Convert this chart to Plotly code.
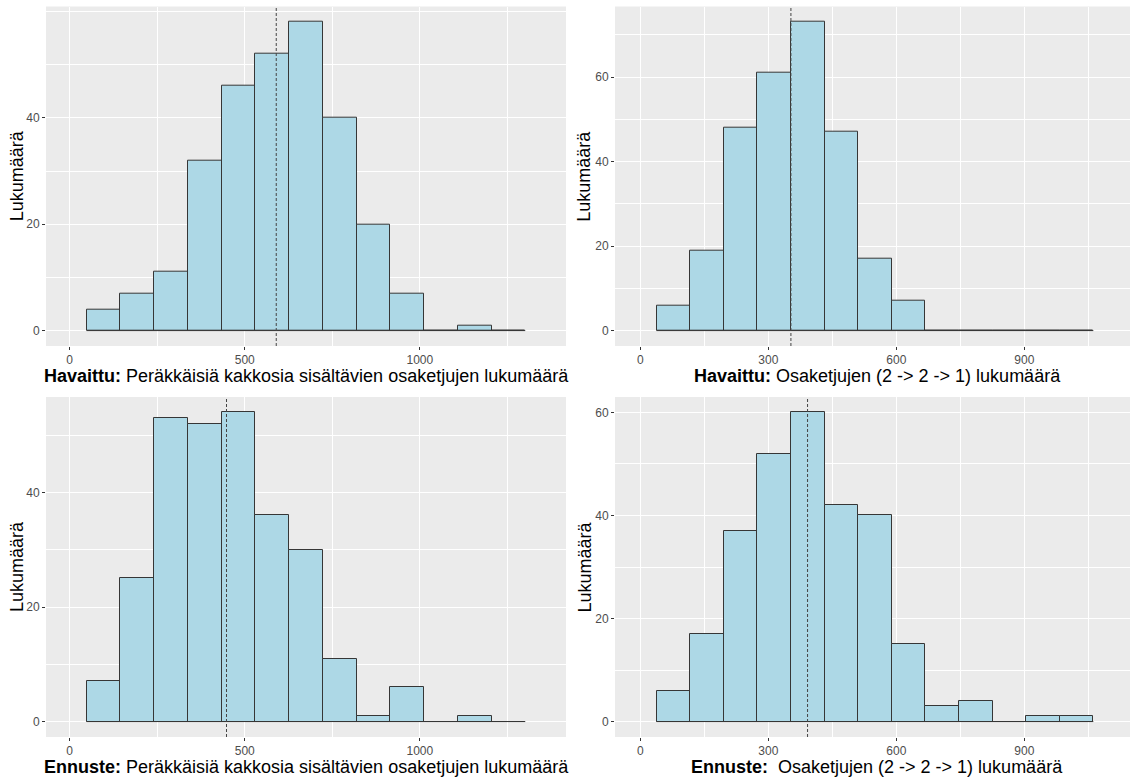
import plotly.graph_objects as go

# ---------------- data ----------------
# Panel 1: Havaittu, consecutive twos
obs_pairs_counts = [4, 7, 11, 32, 46, 52, 58, 40, 20, 7, 0, 1, 0]
# Panel 3: Ennuste, consecutive twos
pred_pairs_counts = [7, 25, 53, 52, 54, 36, 30, 11, 1, 6, 0, 1, 0]
pairs_bin_start = 48.6
pairs_bin_width = 96.35
obs_pairs_mean = 590
pred_pairs_mean = 448

# Panel 2: Havaittu, 2 -> 2 -> 1
obs_seq_counts = [6, 19, 48, 61, 73, 47, 17, 7, 0, 0, 0, 0, 0]
# Panel 4: Ennuste, 2 -> 2 -> 1
pred_seq_counts = [6, 17, 37, 52, 60, 42, 40, 15, 3, 4, 0, 1, 1]
seq_bin_start = 38
seq_bin_width = 78.75
obs_seq_mean = 353
pred_seq_mean = 392

pairs_xticks = [0, 500, 1000]
seq_xticks = [0, 300, 600, 900]

titles = [
    "<b>Havaittu:</b> Peräkkäisiä kakkosia sisältävien osaketjujen lukumäärä",
    "<b>Havaittu:</b> Osaketjujen (2 -> 2 -> 1) lukumäärä",
    "<b>Ennuste:</b> Peräkkäisiä kakkosia sisältävien osaketjujen lukumäärä",
    "<b>Ennuste:</b>\u00a0 Osaketjujen (2 -> 2 -> 1) lukumäärä",
]
y_title = "Lukumäärä"

# ---------------- layout geometry ----------------
W, H = 1130, 778
FONT = "Liberation Sans, Arial, sans-serif"
FILL = "#ADD8E6"
EDGE = "#363636"
PANEL_BG = "#EBEBEB"

def px_x(p):
    return p / W

def px_y(p):
    return 1 - p / H

panels = [
    dict(counts=obs_pairs_counts, start=pairs_bin_start, width=pairs_bin_width,
         mean=obs_pairs_mean, xticks=pairs_xticks, xrange=[-67.5, 1417.5], xminor=250,
         xd=(46, 566), yd=(6.7, 346)),
    dict(counts=obs_seq_counts, start=seq_bin_start, width=seq_bin_width,
         mean=obs_seq_mean, xticks=seq_xticks, xrange=[-59.3, 1147.7], xminor=150,
         xd=(615, 1130), yd=(6.7, 346)),
    dict(counts=pred_pairs_counts, start=pairs_bin_start, width=pairs_bin_width,
         mean=pred_pairs_mean, xticks=pairs_xticks, xrange=[-67.5, 1417.5], xminor=250,
         xd=(46, 566), yd=(397, 737)),
    dict(counts=pred_seq_counts, start=seq_bin_start, width=seq_bin_width,
         mean=pred_seq_mean, xticks=seq_xticks, xrange=[-59.3, 1147.7], xminor=150,
         xd=(615, 1130), yd=(397, 737)),
]

fig = go.Figure()
layout = dict(
    width=W, height=H,
    margin=dict(l=0, r=0, t=0, b=0),
    paper_bgcolor="white",
    showlegend=False,
    font=dict(family=FONT),
    shapes=[], annotations=[],
)

for i, p in enumerate(panels):
    n = i + 1
    xa = "x" if n == 1 else f"x{n}"
    ya = "y" if n == 1 else f"y{n}"
    counts = p["counts"]
    centers = [p["start"] + p["width"] * (k + 0.5) for k in range(len(counts))]
    edges_lo = p["start"]
    edges_hi = p["start"] + p["width"] * len(counts)

    # baseline outline of the histogram (zero-height bins show as a line)
    fig.add_trace(go.Scatter(
        x=[edges_lo, edges_hi], y=[0, 0], mode="lines",
        line=dict(color=EDGE, width=1), xaxis=xa, yaxis=ya, hoverinfo="skip",
    ))
    fig.add_trace(go.Bar(
        x=centers, y=counts, width=[p["width"]] * len(counts),
        marker=dict(color=FILL, line=dict(color=EDGE, width=1)),
        xaxis=xa, yaxis=ya, hoverinfo="skip",
    ))

    ymax = max(counts)
    yr = [-0.05 * ymax, 1.05 * ymax]
    yticks = list(range(0, int(ymax) + 1, 20))

    axkey_x = "xaxis" if n == 1 else f"xaxis{n}"
    axkey_y = "yaxis" if n == 1 else f"yaxis{n}"
    layout[axkey_x] = dict(
        domain=[px_x(p["xd"][0]), px_x(p["xd"][1])],
        anchor=ya, range=p["xrange"],
        tickvals=p["xticks"], ticktext=[str(v) for v in p["xticks"]],
        ticks="outside", ticklen=3, tickwidth=1, tickcolor="#333333",
        tickfont=dict(size=12, color="#4D4D4D", family=FONT),
        showgrid=True, gridcolor="white", gridwidth=1.1,
        minor=dict(dtick=p["xminor"], tick0=0, showgrid=True,
                   gridcolor="white", gridwidth=0.55),
        zeroline=False, showline=False, fixedrange=True,
    )
    layout[axkey_y] = dict(
        domain=[px_y(p["yd"][1]), px_y(p["yd"][0])],
        anchor=xa, range=yr,
        tickvals=yticks, ticktext=[str(v) for v in yticks],
        ticks="outside", ticklen=3, tickwidth=1, tickcolor="#333333",
        tickfont=dict(size=12, color="#4D4D4D", family=FONT),
        showgrid=True, gridcolor="white", gridwidth=1.1,
        minor=dict(dtick=10, tick0=0, showgrid=True,
                   gridcolor="white", gridwidth=0.55),
        zeroline=False, showline=False, fixedrange=True,
    )
    # panel background
    layout["shapes"].append(dict(
        type="rect", xref=f"{xa} domain", yref=f"{ya} domain",
        x0=0, x1=1, y0=0, y1=1, fillcolor=PANEL_BG, line=dict(width=0),
        layer="below",
    ))
    # mean line
    layout["shapes"].append(dict(
        type="line", xref=xa, yref=f"{ya} domain",
        x0=p["mean"], x1=p["mean"], y0=0, y1=1,
        line=dict(color="#444444", width=1, dash="3px,2px"),
        layer="above",
    ))
    # x-axis title
    title_cx = {0: 306, 1: 877, 2: 306, 3: 877}[i]
    title_cy = 376 if i < 2 else 767
    layout["annotations"].append(dict(
        text=titles[i], xref="paper", yref="paper",
        x=px_x(title_cx), y=px_y(title_cy), xanchor="center", yanchor="middle",
        showarrow=False, font=dict(size=18, color="black", family=FONT),
    ))
    # y-axis title
    ytx = 17 if i % 2 == 0 else 584.5
    yty = (p["yd"][0] + p["yd"][1]) / 2
    layout["annotations"].append(dict(
        text=y_title, xref="paper", yref="paper", textangle=-90,
        x=px_x(ytx), y=px_y(yty), xanchor="center", yanchor="middle",
        showarrow=False, font=dict(size=18, color="black", family=FONT),
    ))

fig.update_layout(**layout)
fig.update_layout(plot_bgcolor=PANEL_BG, bargap=0)
fig.write_html("out.html")
